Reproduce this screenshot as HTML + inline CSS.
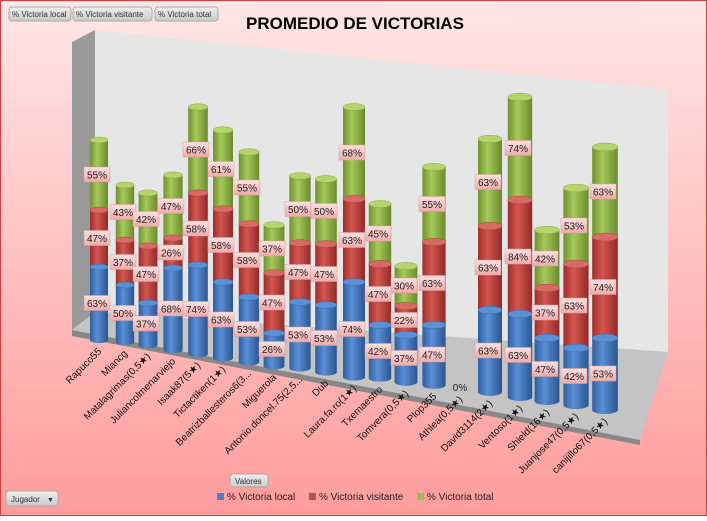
<!DOCTYPE html>
<html><head><meta charset="utf-8"><style>
body{margin:0;width:707px;height:516px;overflow:hidden;font-family:"Liberation Sans","DejaVu Sans",sans-serif}
</style></head><body>
<svg id="s" width="707" height="516" xmlns="http://www.w3.org/2000/svg" font-family="Liberation Sans, DejaVu Sans, sans-serif">
<defs>
<linearGradient id="bg" x1="0" y1="0" x2="0" y2="1"><stop offset="0" stop-color="#ffe6e6"/><stop offset="1" stop-color="#ff9c9c"/></linearGradient>
<linearGradient id="gb" x1="0" x2="1"><stop offset="0" stop-color="#2f5e9e"/><stop offset=".4" stop-color="#5b8fd6"/><stop offset="1" stop-color="#2a5590"/></linearGradient>
<linearGradient id="gr" x1="0" x2="1"><stop offset="0" stop-color="#9e2e2c"/><stop offset=".4" stop-color="#d4564f"/><stop offset="1" stop-color="#922a28"/></linearGradient>
<linearGradient id="gg" x1="0" x2="1"><stop offset="0" stop-color="#71902f"/><stop offset=".4" stop-color="#a6c95a"/><stop offset="1" stop-color="#6a8a2c"/></linearGradient>
<linearGradient id="lb" x1="0" y1="0" x2="0" y2="1"><stop offset="0" stop-color="#fbe0e0"/><stop offset="1" stop-color="#eeaaaa"/></linearGradient>
<linearGradient id="btn" x1="0" y1="0" x2="0" y2="1"><stop offset="0" stop-color="#f0f0f0"/><stop offset="1" stop-color="#c8c8c8"/></linearGradient>
</defs>
<rect width="707" height="516" fill="url(#bg)"/>
<rect x="0.5" y="0.5" width="706" height="515" fill="none" stroke="#d04040"/>
<polygon points="72,42 95,30 95,312 72,330" fill="#999"/>
<polygon points="95,30 668,90 668,352 95,312" fill="#e6e6e6"/>
<polygon points="72,330 95,312 668,352 640,440" fill="#c4c4c4"/>
<polygon points="72,330 640,440 640,445 72,336" fill="#888"/>
<text x="355" y="29" font-size="17" font-weight="bold" text-anchor="middle">PROMEDIO DE VICTORIAS</text>
<g font-size="8" fill="#333">
<rect x="9" y="7" width="62" height="14" rx="3" fill="url(#btn)" stroke="#aaa"/><text x="12" y="17">% Victoria local</text>
<rect x="73" y="7" width="79" height="14" rx="3" fill="url(#btn)" stroke="#aaa"/><text x="76" y="17">% Victoria visitante</text>
<rect x="155" y="7" width="63" height="14" rx="3" fill="url(#btn)" stroke="#aaa"/><text x="158" y="17">% Victoria total</text>
<rect x="230" y="474" width="38" height="13" rx="3" fill="url(#btn)" stroke="#aaa"/><text x="235" y="484">Valores</text>
<rect x="6" y="491" width="52" height="15" rx="3" fill="url(#btn)" stroke="#aaa"/><text x="11" y="502">Jugador</text><text x="47" y="502" font-size="7">▼</text>
</g>
<g font-size="10" fill="#222">
<rect x="217" y="493" width="7" height="7" fill="#4f81bd"/><text x="227" y="500">% Victoria local</text>
<rect x="309" y="493" width="7" height="7" fill="#c0504d"/><text x="319" y="500">% Victoria visitante</text>
<rect x="417" y="493" width="7" height="7" fill="#9bbb59"/><text x="427" y="500">% Victoria total</text>
</g>
<g id="c"></g>
</svg>
<script>
var d=[
["Rapuco55",99,340,267,210,140,63,47,55],
["Miancg",125,342,285,240,185,50,37,43],
["Matalagrimas(0,5★)",148,345,303,246,193,37,47,42],
["Juliancolmenarviejo",173,350,268,238,175,68,26,47],
["Isaak87(5★)",198,354,265,193,107,74,58,66],
["Tictactiken(1★)",223,358,282,209,130,63,58,61],
["Beatrizballesteros6(3...",249,362,297,224,152,53,58,55],
["Miguerola",274,366,333,273,225,26,47,37],
["Antonio.doncel.75(2,5...",300,368,302,243,176,53,47,50],
["Dub",326,372,305,244,179,53,47,50],
["Laura.fa.ro(1★)",354,377,282,199,107,74,63,68],
["Txemaestro",380,378,325,264,204,42,47,45],
["Tomvera(0,5★)",406,382,335,306,266,37,22,30],
["Plop355",434,385,325,242,167,47,63,55],
["Athlea(0,5★)",460,388,0,0,0,0,0,0],
["David3114(2★)",490,392,310,226,139,63,63,63],
["Ventoso(1★)",520,397,314,200,97,63,84,74],
["Shield(16★)",547,401,338,288,230,47,37,42],
["Juanjose47(0,5★)",576,405,348,264,188,42,63,53],
["canijillo67(0,5★)",605,410,338,237,147,53,74,63]];
var h="",L="",T="";
d.forEach(function(r,i){
 var x=r[1],b=r[2],w=9+i*0.2,ry=3+i*0.05;
 var seg=[[b,r[3],"gb","#3a6bb0","#5b8fd6"],[r[3],r[4],"gr","#b04440","#d86a66"],[r[4],r[5],"gg","#86a840","#b5d46c"]];
 if(r[3]){
 h+='<ellipse cx="'+x+'" cy="'+b+'" rx="'+w+'" ry="'+ry+'" fill="#2f5e9e"/>';
 seg.forEach(function(s){
  h+='<rect x="'+(x-w)+'" y="'+s[1]+'" width="'+(2*w)+'" height="'+(s[0]-s[1])+'" fill="url(#'+s[2]+')"/>';
  h+='<ellipse cx="'+x+'" cy="'+s[0]+'" rx="'+w+'" ry="'+ry+'" fill="url(#'+s[2]+')"/>';
 });
 seg.forEach(function(s){h+='<ellipse cx="'+x+'" cy="'+s[1]+'" rx="'+w+'" ry="'+ry+'" fill="'+s[4]+'" stroke="'+s[3]+'" stroke-width=".5"/>';});
 [6,7,8].forEach(function(k,j){var cy=(seg[j][0]+seg[j][1])/2,lx=x-2;
  L+='<rect x="'+(lx-13)+'" y="'+(cy-8)+'" width="26" height="15" fill="url(#lb)" stroke="#d9a0a0" stroke-width=".5"/><text x="'+lx+'" y="'+(cy+3.5)+'" text-anchor="middle" font-size="10" fill="#222">'+r[k]+'%</text>';});
 } else {L+='<text x="'+x+'" y="'+(b+3)+'" text-anchor="middle" font-size="10" fill="#222">0%</text>';}
 var tx=x+3,ty=b+12;
 T+='<text transform="translate('+tx+','+ty+') rotate(-45)" text-anchor="end" font-size="10" fill="#111">'+r[0]+'</text>';
});
document.getElementById("c").innerHTML=h+L+T;
</script>
</body></html>
